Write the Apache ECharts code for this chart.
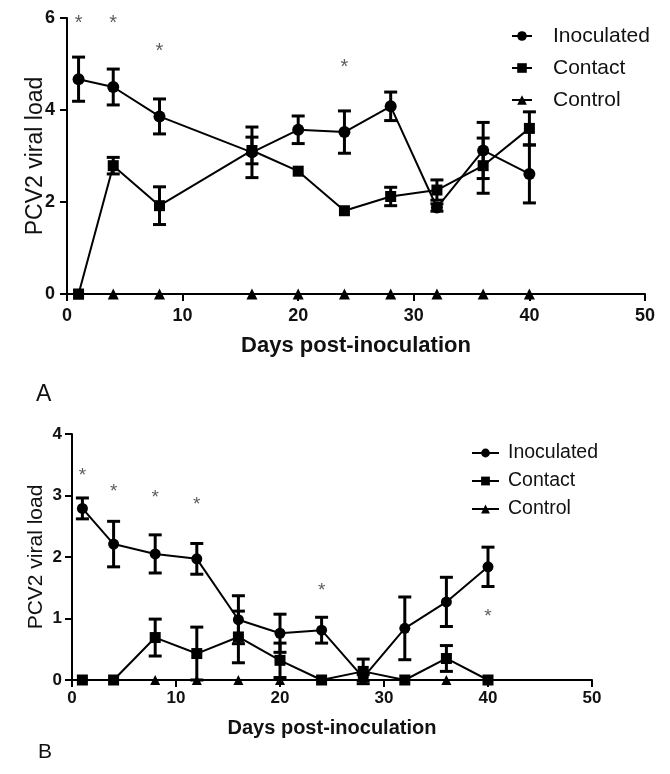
<!DOCTYPE html>
<html>
<head>
<meta charset="utf-8">
<script src="https://cdn.jsdelivr.net/npm/echarts@6/dist/echarts.min.js"></script>
<style>
  html, body { margin: 0; padding: 0; background: #fff; }
  #chart { width: 670px; height: 774px; }
</style>
</head>
<body>
<div id="chart"></div>
<script>
// Panel A
const daysA = [1, 4, 8, 16, 20, 24, 28, 32, 36, 40];
const inocA = [4.67, 4.50, 3.86, 3.08, 3.57, 3.52, 4.08, 1.88, 3.12, 2.61];
const inocErrA = [0.48, 0.39, 0.38, 0.55, 0.30, 0.46, 0.31, 0.08, 0.61, 0.63];
const contA = [0, 2.79, 1.92, 3.12, 2.67, 1.81, 2.12, 2.26, 2.79, 3.60];
const contErrA = [0, 0.18, 0.41, 0.29, 0, 0, 0.20, 0.22, 0.60, 0.36];
const ctrlA = [0, 0, 0, 0, 0, 0, 0, 0, 0, 0];
const starDaysA = [1, 4, 8, 24];
const starYA = [6.0, 6.0, 5.38, 5.03];

// Panel B
const daysB = [1, 4, 8, 12, 16, 20, 24, 28, 32, 36, 40];
const inocB = [2.79, 2.21, 2.05, 1.97, 0.98, 0.76, 0.81, 0.04, 0.84, 1.27, 1.84];
const inocErrB = [0.17, 0.37, 0.31, 0.25, 0.39, 0.31, 0.21, 0.05, 0.51, 0.40, 0.32];
const contB = [0, 0, 0.69, 0.43, 0.70, 0.32, 0, 0.14, 0, 0.35, 0];
const contErrB = [0, 0, 0.30, 0.43, 0.42, 0.28, 0, 0.20, 0, 0.21, 0];
const ctrlB = [0, 0, 0, 0, 0, 0, 0, 0, 0, 0, 0];
const starDaysB = [1, 4, 8, 12, 24, 40];
const starYB = [3.40, 3.14, 3.04, 2.93, 1.53, 1.11];

const groups = ['Inoculated', 'Contact', 'Control'];
const xTicks = [0, 10, 20, 30, 40, 50];
const FONT = 'Liberation Sans, Arial, sans-serif';

const zip = (xs, ys) => xs.map((x, i) => [x, ys[i]]);
const zip3 = (xs, ys, es) => xs.map((x, i) => [x, ys[i], es[i]]);

// error bars: vertical line with caps, in data coordinates
function errorBars(hw) {
    return function (params, api) {
        const x = api.value(0), y = api.value(1), e = api.value(2);
        if (!e) return { type: 'group', children: [] };
        const top = api.coord([x, y + e]);
        const bot = api.coord([x, y - e]);
        const st = { stroke: '#000', lineWidth: 3 };
        return {
            type: 'group',
            children: [
                { type: 'line', shape: { x1: top[0], y1: top[1], x2: bot[0], y2: bot[1] }, style: st },
                { type: 'line', shape: { x1: top[0] - hw, y1: top[1], x2: top[0] + hw, y2: top[1] }, style: st },
                { type: 'line', shape: { x1: bot[0] - hw, y1: bot[1], x2: bot[0] + hw, y2: bot[1] }, style: st }
            ]
        };
    };
}

function xAxisFor(idx, fs, margin, nameSize, nameGap) {
    return {
        gridIndex: idx, type: 'value', min: 0, max: 50, interval: 10,
        name: 'Days post-inoculation', nameLocation: 'middle', nameGap: nameGap,
        nameMoveOverlap: false,
        nameTextStyle: { color: '#111', fontSize: nameSize, fontWeight: 'bold', fontFamily: FONT },
        axisLine: { onZero: false, lineStyle: { color: '#000', width: 2 } },
        axisTick: { length: 7, lineStyle: { color: '#000', width: 2 } },
        axisLabel: { color: '#111', fontSize: fs, fontWeight: 'bold', fontFamily: FONT, margin: margin,
            formatter: v => xTicks.includes(v) ? String(v) : '' },
        splitLine: { show: false }
    };
}

function yAxisFor(idx, max, interval, fs, margin, nameSize, nameGap) {
    return {
        gridIndex: idx, type: 'value', min: 0, max: max, interval: interval,
        name: 'PCV2 viral load', nameLocation: 'middle', nameGap: nameGap,
        nameMoveOverlap: false,
        nameTextStyle: { color: '#111', fontSize: nameSize, fontFamily: FONT },
        axisLine: { show: true, lineStyle: { color: '#000', width: 2 } },
        axisTick: { show: true, length: 7, lineStyle: { color: '#000', width: 2 } },
        axisLabel: { color: '#111', fontSize: fs, fontWeight: 'bold', fontFamily: FONT, margin: margin },
        splitLine: { show: false }
    };
}

function lineSeries(name, idx, days, vals, symbol, size) {
    return {
        name: name, type: 'line', xAxisIndex: idx, yAxisIndex: idx,
        data: zip(days, vals), symbol: symbol, symbolSize: size,
        itemStyle: { color: '#000' }, lineStyle: { color: '#000', width: 2 },
        z: 3
    };
}

function errSeries(name, idx, days, vals, errs, hw) {
    return {
        name: name + ' SEM', type: 'custom', xAxisIndex: idx, yAxisIndex: idx,
        data: zip3(days, vals, errs), encode: { x: 0, y: 1 },
        renderItem: errorBars(hw), z: 2
    };
}

function starSeries(idx, days, ys, fs) {
    return {
        type: 'scatter', xAxisIndex: idx, yAxisIndex: idx,
        data: zip(days, ys), symbolSize: 1, itemStyle: { color: 'transparent' },
        label: { show: true, position: 'inside', formatter: '*', color: '#333',
            fontSize: fs, fontFamily: FONT, offset: [0, 5] },
        silent: true
    };
}

let myChart = echarts.init(document.getElementById('chart'));
let option = {
    backgroundColor: '#fff',
    animation: false,
    grid: [
        { left: 67, right: 25, top: 18, bottom: 480 },
        { left: 72, right: 78, top: 434, bottom: 94 }
    ],
    xAxis: [xAxisFor(0, 18, 13, 22, 41), xAxisFor(1, 17, 10, 20, 38)],
    yAxis: [yAxisFor(0, 6, 2, 18, 12, 23, 20), yAxisFor(1, 4, 1, 17, 10, 21, 25)],
    legend: [
        {
            data: groups, orient: 'vertical', left: 506, top: 20,
            itemWidth: 20, itemHeight: 12, itemGap: 10,
            textStyle: { fontSize: 21, fontFamily: FONT, color: '#111', lineHeight: 22, padding: [0, 0, 0, 16] }
        },
        {
            data: groups, orient: 'vertical', left: 466, top: 438,
            itemWidth: 27, itemHeight: 11, itemGap: 8,
            textStyle: { fontSize: 19.5, fontFamily: FONT, color: '#111', lineHeight: 20, padding: [0, 0, 0, 4] }
        }
    ],
    graphic: [
        { type: 'text', left: 36, top: 383, style: { text: 'A', fontSize: 23, fontFamily: FONT, fill: '#111' } },
        { type: 'text', left: 38, top: 742, style: { text: 'B', fontSize: 21, fontFamily: FONT, fill: '#111' } }
    ],
    series: [
        errSeries('Inoculated', 0, daysA, inocA, inocErrA, 6.5),
        errSeries('Contact', 0, daysA, contA, contErrA, 6.5),
        lineSeries('Inoculated', 0, daysA, inocA, 'circle', 12),
        lineSeries('Contact', 0, daysA, contA, 'rect', 11),
        lineSeries('Control', 0, daysA, ctrlA, 'triangle', 11),
        starSeries(0, starDaysA, starYA, 20),

        errSeries('Inoculated', 1, daysB, inocB, inocErrB, 6.5),
        errSeries('Contact', 1, daysB, contB, contErrB, 6.5),
        lineSeries('Inoculated', 1, daysB, inocB, 'circle', 11),
        lineSeries('Contact', 1, daysB, contB, 'rect', 11),
        lineSeries('Control', 1, daysB, ctrlB, 'triangle', 10),
        starSeries(1, starDaysB, starYB, 19)
    ]
};
myChart.setOption(option);
window.addEventListener('resize', function () {
    myChart.resize();
});
</script>
</body>
</html>
